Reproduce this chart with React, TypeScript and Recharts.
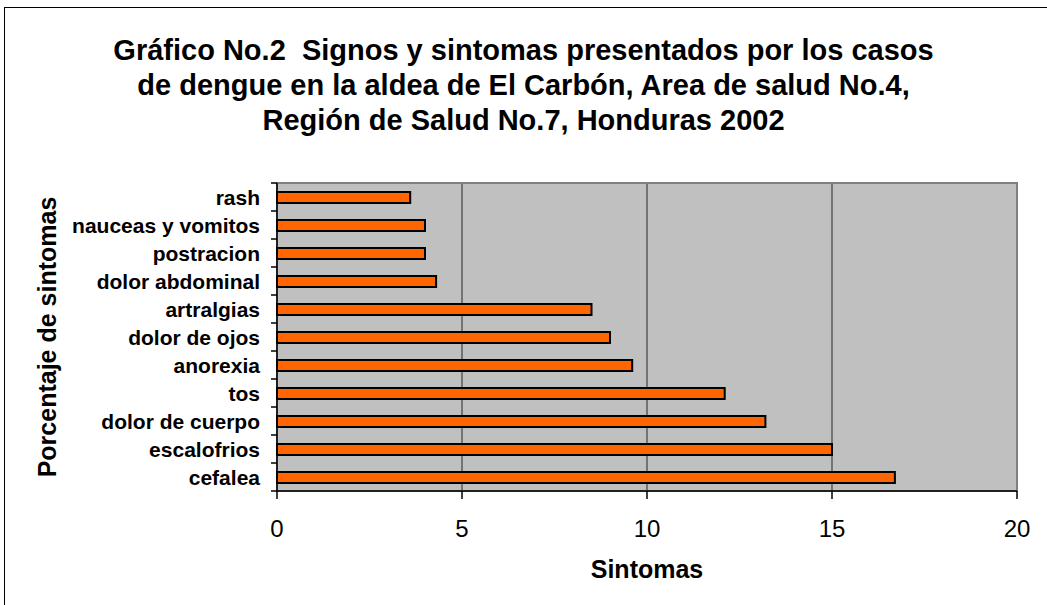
import React from 'react';
import { BarChart, Bar, XAxis, YAxis, CartesianGrid, ReferenceArea, Label } from 'recharts';

const sintomas = [
  'rash',
  'nauceas y vomitos',
  'postracion',
  'dolor abdominal',
  'artralgias',
  'dolor de ojos',
  'anorexia',
  'tos',
  'dolor de cuerpo',
  'escalofrios',
  'cefalea',
];
const porcentajes = [3.6, 4.0, 4.0, 4.3, 8.5, 9.0, 9.6, 12.1, 13.2, 15.0, 16.7];
const xTicks = [0, 5, 10, 15, 20];

const titleLines = [
  'Gráfico No.2\u00a0 Signos y sintomas presentados por los casos',
  'de dengue en la aldea de El Carbón, Area de salud No.4,',
  'Región de Salud No.7, Honduras 2002',
];

const data = sintomas.map((name, i) => ({ name, value: porcentajes[i] }));

const FONT = '"Liberation Sans", Arial, sans-serif';
const BAND = 28;

// recharts hands the tick x already shifted left by tickSize + tickMargin (6 + 2)
const CategoryTick = (props: any) => {
  const { x, y, payload, index } = props;
  const ax = x + 8;
  return (
    <g>
      <text
        x={ax - 17}
        y={y}
        textAnchor="end"
        dominantBaseline="central"
        fontFamily={FONT}
        fontWeight="bold"
        fontSize={21}
        fill="#000"
      >
        {payload.value}
      </text>
      {index === 0 && <line x1={ax - 6} x2={ax} y1={y - BAND / 2} y2={y - BAND / 2} stroke="#000" strokeWidth={1.5} />}
      <line x1={ax - 6} x2={ax} y1={y + BAND / 2} y2={y + BAND / 2} stroke="#000" strokeWidth={1.5} />
    </g>
  );
};

export default function App() {
  return (
    <div style={{ position: 'absolute', left: 0, top: 0, width: 1047, height: 605, background: '#fff', overflow: 'hidden' }}>
      <div
        style={{
          position: 'absolute',
          left: 4,
          top: 7,
          width: 1100,
          height: 620,
          border: '1.5px solid #000',
          boxSizing: 'border-box',
        }}
      />
      <div
        style={{
          position: 'absolute',
          left: 0,
          top: 33,
          width: 1047,
          textAlign: 'center',
          fontFamily: FONT,
          fontWeight: 'bold',
          fontSize: 29,
          lineHeight: '35px',
          color: '#000',
        }}
      >
        {titleLines.map((l) => (
          <div key={l}>{l}</div>
        ))}
      </div>
      <div style={{ position: 'absolute', left: 0, top: 0 }}>
        <BarChart
          width={1047}
          height={605}
          data={data}
          layout="vertical"
          margin={{ top: 183, right: 30, bottom: 0, left: 0 }}
          barCategoryGap={0}
        >
          <CartesianGrid horizontal={false} fill="#C0C0C0" stroke="#404040" strokeWidth={1.2} />
          <ReferenceArea x1={0} x2={20} fill="none" stroke="#808080" strokeWidth={2} />
          <XAxis
            type="number"
            domain={[0, 20]}
            ticks={xTicks}
            height={114}
            tickSize={8}
            tickMargin={21}
            axisLine={{ stroke: '#000', strokeWidth: 1.5 }}
            tickLine={{ stroke: '#000', strokeWidth: 1.5 }}
            tick={{ fontFamily: FONT, fontSize: 24, fill: '#000' }}
          >
            <Label
              content={() => (
                <text
                  x={647}
                  y={569}
                  textAnchor="middle"
                  dominantBaseline="central"
                  fontFamily={FONT}
                  fontWeight="bold"
                  fontSize={25}
                  fill="#000"
                >
                  Sintomas
                </text>
              )}
            />
          </XAxis>
          <YAxis
            type="category"
            dataKey="name"
            width={277}
            tickLine={false}
            axisLine={{ stroke: '#000', strokeWidth: 1.5 }}
            tick={<CategoryTick />}
            interval={0}
          >
            <Label
              content={() => (
                <text
                  transform="translate(47,337) rotate(-90)"
                  textAnchor="middle"
                  dominantBaseline="central"
                  fontFamily={FONT}
                  fontWeight="bold"
                  fontSize={25}
                  fill="#000"
                >
                  Porcentaje de sintomas
                </text>
              )}
            />
          </YAxis>
          <Bar
            dataKey="value"
            barSize={11}
            fill="#FF6600"
            stroke="#000"
            strokeWidth={2}
            isAnimationActive={false}
          />
        </BarChart>
      </div>
    </div>
  );
}
